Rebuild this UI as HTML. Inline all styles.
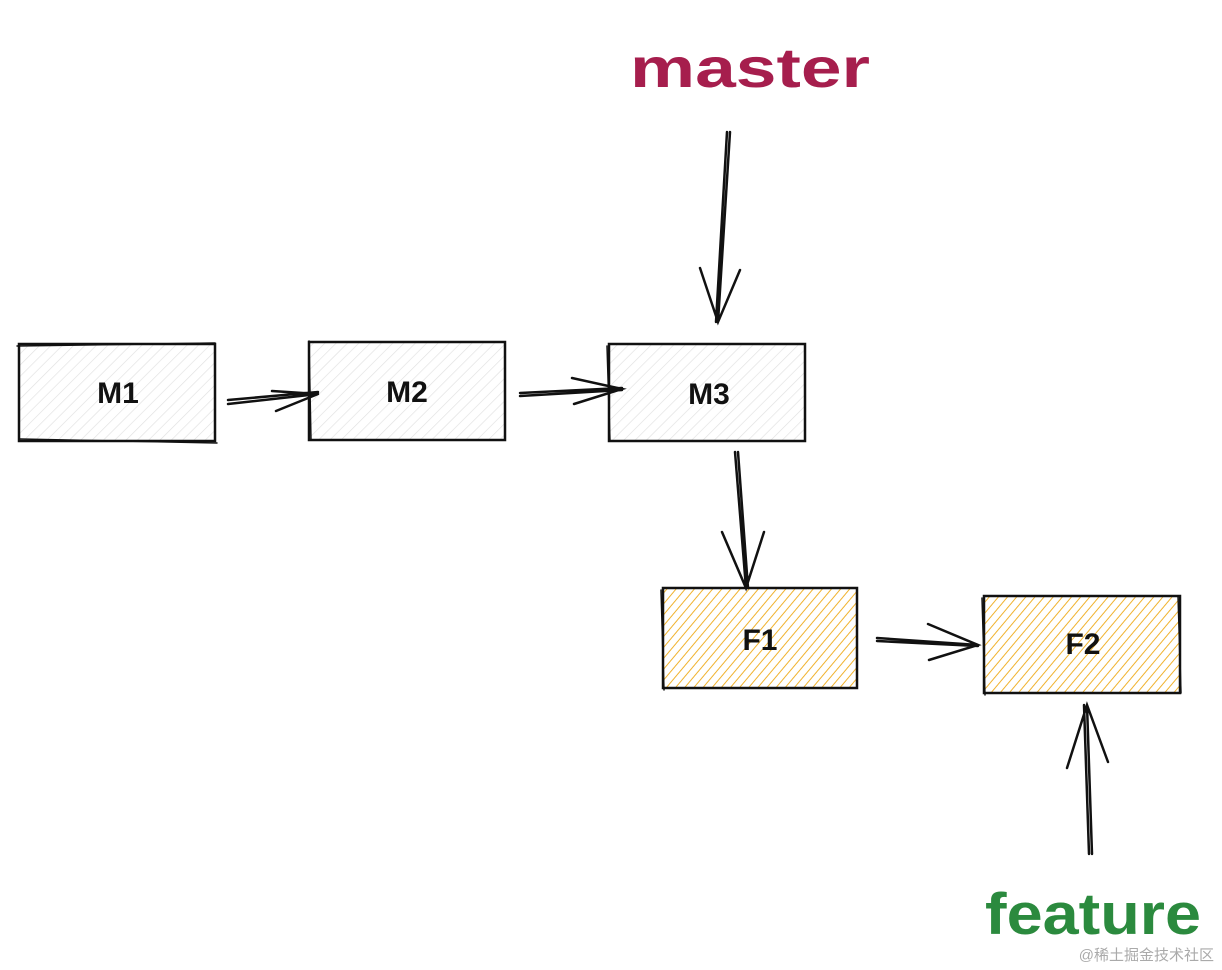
<!DOCTYPE html>
<html><head><meta charset="utf-8"><style>
html,body{margin:0;padding:0;background:#fff;width:1222px;height:970px;overflow:hidden}
svg{display:block}
.t{font-family:"Liberation Sans",sans-serif;font-weight:bold;font-size:30px;fill:#111}
</style></head><body>
<svg width="1222" height="970" viewBox="0 0 1222 970">
<defs>
<pattern id="g" width="8" height="8" patternUnits="userSpaceOnUse" patternTransform="rotate(45)">
<line x1="0" y1="0" x2="0" y2="8" stroke="#e0e0e0" stroke-width="1.3"/></pattern>
<pattern id="y" width="7" height="7" patternUnits="userSpaceOnUse" patternTransform="rotate(40)">
<line x1="0" y1="0" x2="0" y2="7" stroke="#f0b22e" stroke-width="2"/></pattern>
</defs>
<g stroke="#111" stroke-width="2.5" fill="none" stroke-linecap="round">
<rect x="19" y="344" width="196" height="97" fill="url(#g)"/>
<rect x="309" y="342" width="196" height="98" fill="url(#g)"/>
<rect x="609" y="344" width="196" height="97" fill="url(#g)"/>
<rect x="663" y="588" width="194" height="100" fill="url(#y)"/>
<rect x="984" y="596" width="196" height="97" fill="url(#y)"/>
<g stroke-width="1.5">
<path d="M17 346 L215 343 M20 439 L217 443 M309 341 L311 440 M607 346 L610 441 M661 590 L664 690 M982 598 L985 695 M1178 596 L1181 693"/>
</g>
<path d="M228 404 L318 394 M228 400 L318 392 M272 391 L318 394 L276 411"/>
<path d="M520 396 L622 390 M520 393 L622 388 M572 378 L622 389 L574 404"/>
<path d="M730 132 L718 322 M727 132 L716 322 M700 268 L718 322 L740 270"/>
<path d="M735 452 L746 588 M738 452 L748 588 M722 532 L746 588 L764 532"/>
<path d="M877 638 L978 645 M877 641 L978 646 M928 624 L978 645 L929 660"/>
<path d="M1092 854 L1087 705 M1089 854 L1084 705 M1067 768 L1087 705 L1108 762"/>
</g>
<text class="t" x="118" y="403" text-anchor="middle">M1</text>
<text class="t" x="407" y="402" text-anchor="middle">M2</text>
<text class="t" x="709" y="404" text-anchor="middle">M3</text>
<text class="t" x="760" y="650" text-anchor="middle">F1</text>
<text class="t" x="1083" y="654" text-anchor="middle">F2</text>
<text x="630" y="87" textLength="240" lengthAdjust="spacingAndGlyphs" font-family="Liberation Sans,sans-serif" font-weight="bold" font-size="56" fill="#a61e4d">master</text>
<text x="985" y="934" textLength="216" lengthAdjust="spacingAndGlyphs" font-family="Liberation Sans,sans-serif" font-weight="bold" font-size="58" fill="#2b8a3e">feature</text>
<text x="1214" y="960" text-anchor="end" font-family="Liberation Sans,'Noto Sans CJK SC',sans-serif" font-size="15" fill="#aaa">@稀土掘金技术社区</text>
</svg>
</body></html>
